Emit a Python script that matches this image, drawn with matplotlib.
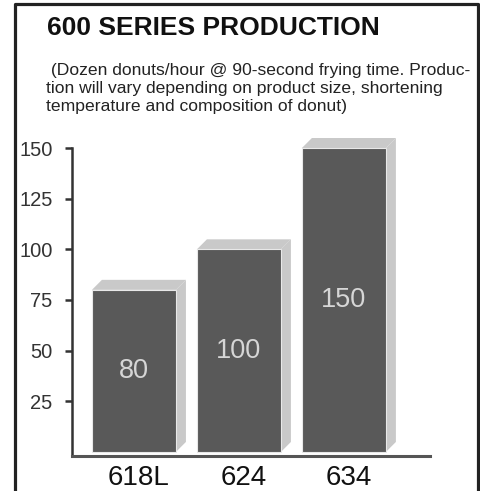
import numpy as np
import matplotlib.pyplot as plt
from matplotlib.patches import Polygon, Rectangle

plt.rcParams['font.family'] = ['Liberation Sans', 'DejaVu Sans']

# data
models = ["618L", "624", "634"]
production = [80, 100, 150]
yticks = [25, 50, 75, 100, 125, 150]

title = "600 SERIES PRODUCTION"
note_lines = [
    " (Dozen donuts/hour @ 90-second frying time. Produc-",
    "tion will vary depending on product size, shortening",
    "temperature and composition of donut)",
]

front_col = "#595959"
side_col = "#c9c9c9"
W, H = 480, 491

fig = plt.figure(figsize=(W / 100, H / 100), dpi=100)

# outer frame (open at the bottom)
frame_x = [15 / W, 15 / W, 478 / W, 478 / W]
frame_y = [-0.05, 1 - 4 / H, 1 - 4 / H, -0.05]
fig.add_artist(plt.Line2D(frame_x, frame_y, color="#222222", lw=2.3,
                          transform=fig.transFigure))

# axes placed in pixel space
ax_left, ax_right = 72, 430
ax_top, ax_bottom = 148, 456
ax = fig.add_axes([ax_left / W, 1 - ax_bottom / H,
                   (ax_right - ax_left) / W, (ax_bottom - ax_top) / H])
ax.set_ylim(-2, 150)
ax.set_xlim(-0.59, 2.82)

bar_w = 0.8
px_per_x = (ax_right - ax_left) / (2.82 + 0.59)
px_per_y = (ax_bottom - ax_top) / 152.0
dx = 10 / px_per_x
dy = 10 / px_per_y

x = np.arange(len(models))
for xi, v in zip(x, production):
    x0, x1 = xi - bar_w / 2, xi + bar_w / 2
    # side face
    ax.add_patch(Polygon([(x1, 0), (x1 + dx, dy), (x1 + dx, v + dy), (x1, v)],
                         closed=True, fc=side_col, ec="none", clip_on=False, zorder=2))
    # top face
    ax.add_patch(Polygon([(x0, v), (x0 + dx, v + dy), (x1 + dx, v + dy), (x1, v)],
                         closed=True, fc=side_col, ec="none", clip_on=False, zorder=2))
    # front face
    ax.add_patch(Rectangle((x0, 0), bar_w, v, fc=front_col, ec="#e8e8e8",
                           lw=0.8, clip_on=False, zorder=3))
    ax.text(xi, v / 2, str(v), ha="center", va="center", fontsize=19.5,
            color="#d6d6d6", zorder=4)

for xi, m in zip(x, models):
    ax.text(xi + dx / 2, -13, m, ha="center", va="center", fontsize=20,
            color="#111111", clip_on=False)

for s in ["top", "right"]:
    ax.spines[s].set_visible(False)
ax.spines["left"].set_color("#333333")
ax.spines["left"].set_linewidth(1.8)
ax.spines["bottom"].set_color("#555555")
ax.spines["bottom"].set_linewidth(2.2)
ax.set_xticks([])
ax.set_yticks(yticks)
ax.tick_params(axis="y", length=5, width=1.8, color="#333333",
               labelsize=14.5, labelcolor="#333333", pad=9)

fig.text(47 / W, 1 - 28 / H, title, fontsize=19, fontweight="bold",
         ha="left", va="center", color="#111111")
for i, line in enumerate(note_lines):
    fig.text(46 / W, 1 - (70 + 18.5 * i) / H, line, fontsize=12.6,
             ha="left", va="center", color="#222222")

fig.savefig("out.png", dpi=100, facecolor="white")
